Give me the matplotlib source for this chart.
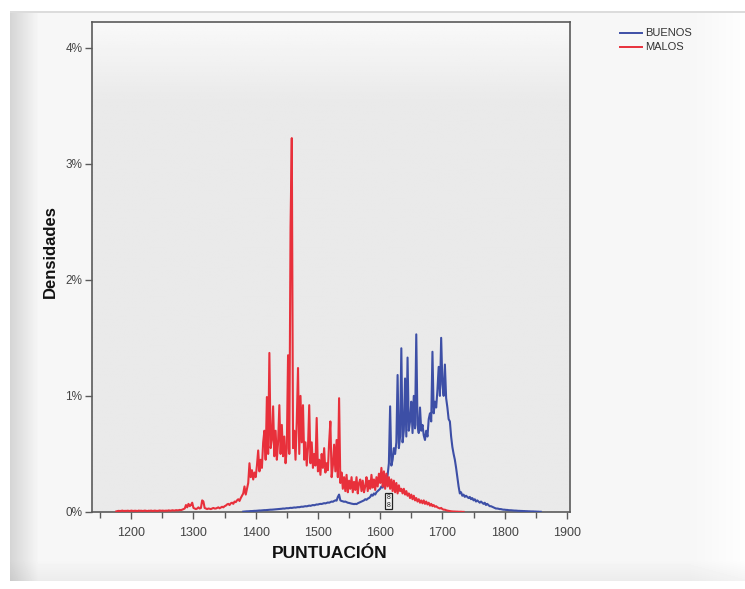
import numpy as np
import matplotlib
matplotlib.use("Agg")
import matplotlib.pyplot as plt
from matplotlib.patches import Rectangle
from matplotlib.ticker import FuncFormatter, MultipleLocator

plt.rcParams['font.family'] = ['Liberation Sans', 'DejaVu Sans']

# ---- data: density (%) per score, sampled every 2 points ----
malos_start, buenos_start, score_step = 1176, 1380, 2

malos = [
    0.005, 0.008, 0.01, 0.008, 0.01, 0.012, 0.008, 0.01, 0.009, 0.011,
    0.01, 0.008, 0.012, 0.01, 0.009, 0.011, 0.01, 0.008, 0.012, 0.01,
    0.011, 0.009, 0.01, 0.012, 0.01, 0.008, 0.011, 0.01, 0.012, 0.009,
    0.01, 0.012, 0.01, 0.009, 0.011, 0.013, 0.01, 0.012, 0.011, 0.01,
    0.012, 0.01, 0.014, 0.012, 0.011, 0.015, 0.013, 0.012, 0.016, 0.014,
    0.015, 0.018, 0.016, 0.02, 0.025, 0.03, 0.06, 0.04, 0.07, 0.05,
    0.06, 0.08, 0.035, 0.03, 0.025, 0.03, 0.04, 0.03, 0.035, 0.1,
    0.09, 0.035, 0.03, 0.025, 0.03, 0.028, 0.025, 0.03, 0.035, 0.03,
    0.03, 0.035, 0.04, 0.032, 0.038, 0.045, 0.04, 0.05, 0.055, 0.065,
    0.07, 0.06, 0.075, 0.08, 0.07, 0.09, 0.085, 0.1, 0.11, 0.095,
    0.12, 0.14, 0.16, 0.22, 0.15, 0.2, 0.25, 0.42, 0.3, 0.36,
    0.28, 0.34, 0.3, 0.4, 0.53, 0.35, 0.45, 0.38, 0.6, 0.7,
    0.45, 0.99, 0.5, 1.37, 0.55, 0.62, 0.91, 0.48, 0.7, 0.45,
    0.6, 0.92, 0.5, 0.75, 0.48, 0.65, 0.42, 0.55, 1.35, 0.5,
    2.45, 3.22, 0.55, 0.7, 0.45, 0.78, 1.24, 0.5, 1.0, 0.6,
    0.92, 0.45, 0.6, 0.4, 0.55, 0.92, 0.42, 0.6, 0.38, 0.5,
    0.4, 0.81, 0.35, 0.45, 0.32, 0.5, 0.38, 0.55, 0.34, 0.42,
    0.36, 0.6, 0.78, 0.3, 0.4, 0.58, 0.35, 0.62, 0.3, 0.98,
    0.25, 0.34, 0.2, 0.3, 0.18, 0.32, 0.17, 0.27, 0.2, 0.3,
    0.17, 0.26, 0.19, 0.3, 0.16, 0.25, 0.28, 0.18, 0.27, 0.17,
    0.22, 0.3, 0.18, 0.27, 0.2, 0.32, 0.21, 0.28, 0.19, 0.3,
    0.22, 0.33, 0.25, 0.38, 0.22, 0.35, 0.2, 0.33, 0.22, 0.3,
    0.2, 0.28, 0.18, 0.27, 0.17, 0.25, 0.16, 0.23, 0.18, 0.2,
    0.16, 0.2, 0.15, 0.18, 0.14, 0.16, 0.12, 0.15, 0.11, 0.14,
    0.1, 0.12, 0.09, 0.11, 0.08, 0.1, 0.075, 0.1, 0.07, 0.09,
    0.065, 0.08, 0.055, 0.07, 0.05, 0.06, 0.045, 0.05, 0.04, 0.035,
    0.03, 0.035, 0.025, 0.02, 0.02, 0.015, 0.012, 0.01, 0.008, 0.006,
    0.005, 0.004, 0.004, 0.003, 0.003, 0.002, 0.002, 0.002, 0.001, 0.001,
]

buenos = [
    0.003, 0.004, 0.005, 0.006, 0.006, 0.007, 0.008, 0.008, 0.009, 0.01,
    0.01, 0.011, 0.012, 0.013, 0.013, 0.014, 0.015, 0.016, 0.016, 0.017,
    0.018, 0.019, 0.02, 0.02, 0.021, 0.022, 0.023, 0.024, 0.025, 0.026,
    0.027, 0.028, 0.03, 0.029, 0.031, 0.033, 0.032, 0.034, 0.036, 0.035,
    0.037, 0.039, 0.038, 0.04, 0.042, 0.041, 0.044, 0.046, 0.045, 0.048,
    0.05, 0.049, 0.052, 0.055, 0.053, 0.057, 0.06, 0.058, 0.062, 0.065,
    0.064, 0.068, 0.07, 0.069, 0.073, 0.076, 0.074, 0.078, 0.082, 0.08,
    0.085, 0.09, 0.088, 0.095, 0.1, 0.098, 0.13, 0.15, 0.1, 0.095,
    0.092, 0.088, 0.09, 0.085, 0.08, 0.078, 0.075, 0.072, 0.07, 0.068,
    0.07, 0.068, 0.075, 0.08, 0.085, 0.09, 0.095, 0.1, 0.11, 0.105,
    0.115, 0.12, 0.13, 0.15, 0.14, 0.16, 0.15, 0.17, 0.18, 0.19,
    0.2, 0.22, 0.21, 0.25, 0.28, 0.26, 0.32, 0.42, 0.91, 0.4,
    0.45, 0.55, 0.5, 0.6, 1.18, 0.55, 0.65, 1.41, 0.6, 0.7,
    1.15, 0.65, 1.33, 0.7, 0.78, 0.95, 0.68, 1.0, 0.72, 1.53,
    0.75, 0.68, 0.9, 0.7, 0.75, 0.66, 0.62, 0.7, 0.65, 0.8,
    0.85, 0.78, 1.38, 0.85, 0.95, 0.9, 1.05, 1.25, 1.0, 1.5,
    1.1, 1.0, 1.27, 0.98, 0.9, 0.8, 0.78, 0.65, 0.56, 0.5,
    0.45, 0.38, 0.3, 0.22, 0.16, 0.17, 0.14, 0.15, 0.13, 0.14,
    0.13, 0.12, 0.13, 0.11, 0.12, 0.1, 0.11, 0.09, 0.1, 0.09,
    0.08, 0.09, 0.08, 0.07, 0.08, 0.06, 0.07, 0.06, 0.05, 0.05,
    0.045, 0.04, 0.035, 0.03, 0.03, 0.028, 0.025, 0.025, 0.022, 0.02,
    0.02, 0.018, 0.018, 0.016, 0.015, 0.015, 0.014, 0.013, 0.012, 0.012,
    0.011, 0.01, 0.01, 0.009, 0.009, 0.008, 0.008, 0.007, 0.007, 0.006,
    0.006, 0.005, 0.005, 0.005, 0.004, 0.004, 0.003, 0.003, 0.002, 0.002,
]

series_names = ["BUENOS", "MALOS"]
x_ticks = [1200, 1300, 1400, 1500, 1600, 1700, 1800, 1900]
y_ticks = [0, 1, 2, 3, 4]

malos_x = malos_start + score_step * np.arange(len(malos))
buenos_x = buenos_start + score_step * np.arange(len(buenos))

BLUE = "#3d4fa6"
RED = "#e8303b"

W, H = 745, 589
fig = plt.figure(figsize=(W / 100, H / 100), dpi=100)
fig.patch.set_facecolor("white")

# ---- framed page background with a soft left/bottom shadow ----
bg = np.ones((H, W))
card = np.full((H, W), 0.965)
cols = np.arange(W)
rows = np.arange(H)
left_fade = np.clip((cols - 10) / 28.0, 0, 1)
card = card - (1 - left_fade)[None, :] * 0.13
right_fade = np.clip((cols - 690) / 55.0, 0, 1)
card = card + right_fade[None, :] * 0.03
bottom_fade = np.clip((rows - 560) / 20.0, 0, 1)
card = card - bottom_fade[:, None] * 0.04
mask = (rows[:, None] >= 12) & (rows[:, None] <= 580) & (cols[None, :] >= 10)
bg[mask] = card[mask]
bg[11:13, 10:] = 0.86
bgax = fig.add_axes([0, 0, 1, 1], zorder=-5)
bgax.imshow(bg, cmap="gray", vmin=0, vmax=1, aspect="auto", interpolation="bilinear")
bgax.axis("off")

# ---- main plot ----
left, right, top, bottom = 92, 570, 22, 512
ax = fig.add_axes([left / W, 1 - bottom / H, (right - left) / W, (bottom - top) / H])
ax.set_facecolor("#e9e9e9")
grad = np.linspace(0.975, 0.915, 40)[:, None] * np.ones((40, 2))
ax.imshow(np.vstack([grad, np.full((200, 2), 0.915)]), cmap="gray", vmin=0, vmax=1,
          aspect="auto", extent=[0, 1, 0, 1], transform=ax.transAxes, zorder=0,
          interpolation="bilinear")

ax.plot(buenos_x, buenos, color=BLUE, lw=1.5, zorder=3, label=series_names[0])
ax.plot(malos_x, malos, color=RED, lw=1.5, zorder=4, label=series_names[1])

ax.set_xlim(1137, 1905)
ax.set_ylim(0, 4.22)
ax.set_xticks(x_ticks)
ax.xaxis.set_minor_locator(MultipleLocator(50))
ax.set_yticks(y_ticks)
ax.yaxis.set_major_formatter(FuncFormatter(lambda v, p: f"{v:.0f}%"))

for s in ax.spines.values():
    s.set_color("#5a5a5a")
    s.set_linewidth(1.2)
ax.tick_params(axis="both", which="both", direction="out", length=5, width=1,
               color="#5a5a5a", labelcolor="#444444", labelsize=8.5)
ax.tick_params(axis="x", which="major", labelsize=9)
ax.tick_params(axis="x", which="minor", length=4)
ax.tick_params(axis="x", pad=6)
ax.tick_params(axis="y", pad=2)

# small group marker near the baseline
tr = ax.get_xaxis_transform()
ax.add_patch(Rectangle((1608.5, 0.006), 11, 0.033, transform=tr, facecolor="#f4f4f4",
                       edgecolor="#222222", lw=0.9, zorder=6, clip_on=False))
ax.text(1614, 0.014, "8", transform=tr, ha="center", va="center", fontsize=5,
        color="#222222", zorder=7)
ax.text(1614, 0.03, "8", transform=tr, ha="center", va="center", fontsize=5,
        color="#222222", zorder=7)

fig.text(330 / W, 1 - 553 / H, "PUNTUACIÓN", ha="center", va="center",
         fontsize=12.5, fontweight="bold", color="#111111")
fig.text(50 / W, 1 - 252 / H, "Densidades", ha="center", va="center",
         rotation=90, fontsize=12, fontweight="bold", color="#111111")

# legend
for i, (name, col) in enumerate(zip(series_names, [BLUE, RED])):
    y = 1 - (32.5 + 14 * i) / H
    fig.add_artist(plt.Line2D([620 / W, 642 / W], [y, y], color=col, lw=1.4))
    fig.text(645 / W, y, name, ha="left", va="center", fontsize=8, color="#333333")

fig.savefig("out.png", dpi=100, facecolor=fig.get_facecolor())
